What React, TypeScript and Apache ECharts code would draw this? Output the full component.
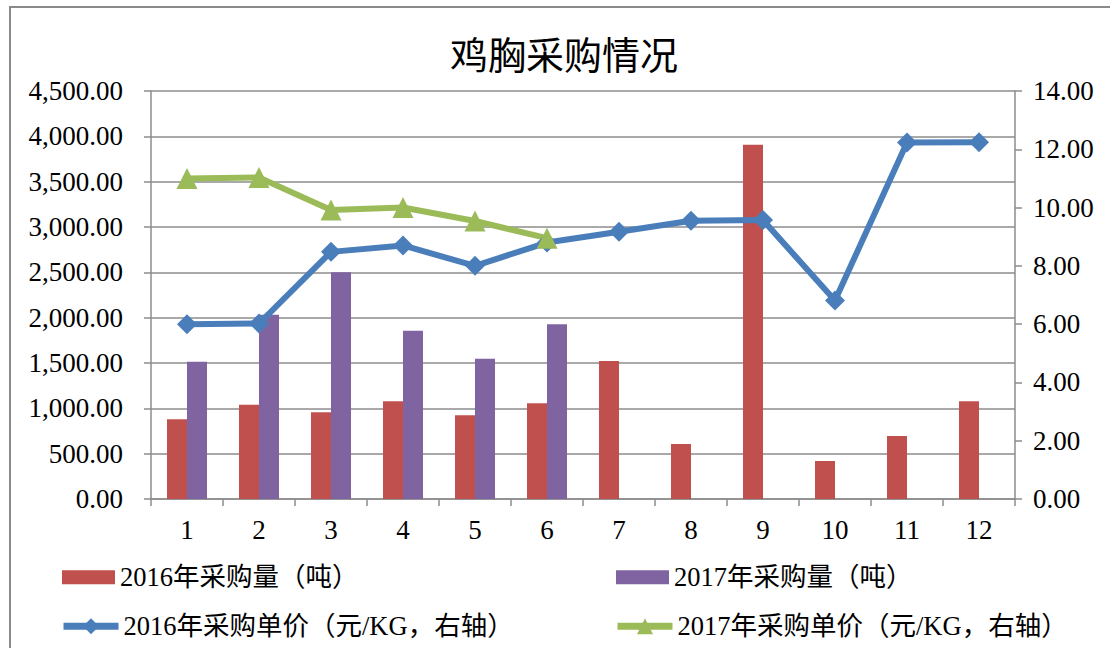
import React, { useEffect, useRef } from "react";
import * as echarts from "echarts";

const months = ["1", "2", "3", "4", "5", "6", "7", "8", "9", "10", "11", "12"];
const qty2016 = [880, 1040, 956, 1077, 923, 1055, 1522, 607, 3908, 419, 695, 1077];
const qty2017 = [1515, 2033, 2500, 1857, 1548, 1927, null, null, null, null, null, null];
const price2016 = [6.0, 6.02, 8.48, 8.7, 8.0, 8.8, 9.17, 9.55, 9.57, 6.81, 12.23, 12.24];
const price2017 = [11.0, 11.03, 9.92, 10.0, 9.54, 8.95, null, null, null, null, null, null];

const names = [
  "2016年采购量（吨）",
  "2017年采购量（吨）",
  "2016年采购单价（元/KG，右轴）",
  "2017年采购单价（元/KG，右轴）",
];

const FONT = "'Liberation Serif', 'Noto Sans CJK SC', serif";
const RED = "#C0504D";
const PURPLE = "#8064A2";
const BLUE = "#4A7EBB";
const GREEN = "#9BBB59";
const GRID = "#8c8c8c";

export default function App() {
  const ref = useRef<HTMLDivElement>(null);
  useEffect(() => {
    if (!ref.current) return;
    const chart = echarts.init(ref.current, null, { renderer: "svg" });
    const legendBase = {
      padding: 0,
      textStyle: { fontFamily: FONT, fontSize: 26.5, color: "#000" },
      itemGap: 0,
    };
    chart.setOption({
      animation: false,
      backgroundColor: "#fff",
      title: {
        text: "鸡胸采购情况",
        left: 559,
        textAlign: "center",
        top: 32,
        textStyle: { fontFamily: FONT, fontSize: 38, fontWeight: "normal", color: "#000" },
      },
      graphic: [
        {
          type: "rect",
          shape: { x: 10, y: 7, width: 1200, height: 700 },
          style: { fill: "none", stroke: "#8a8a8a", lineWidth: 2 },
          silent: true,
        },
      ],
      grid: { left: 151, right: 95, top: 91, bottom: 149, containLabel: false },
      legend: [
        { ...legendBase, left: 62, top: 564, data: [{ name: names[0], icon: "rect" }], itemWidth: 53, itemHeight: 14 },
        { ...legendBase, left: 616, top: 564, data: [{ name: names[1], icon: "rect" }], itemWidth: 53, itemHeight: 14 },
        {
          ...legendBase,
          left: 60,
          top: 613,
          data: [{ name: names[2], lineStyle: { width: 7 } }],
          itemWidth: 55,
          itemHeight: 20,
        },
        {
          ...legendBase,
          left: 614,
          top: 613,
          data: [{ name: names[3], lineStyle: { width: 7 } }],
          itemWidth: 55,
          itemHeight: 20,
        },
      ],
      xAxis: {
        type: "category",
        data: months,
        boundaryGap: true,
        axisLine: { lineStyle: { color: GRID, width: 1.5 } },
        axisTick: { show: true, length: 7, lineStyle: { color: GRID, width: 1.5 } },
        axisLabel: { fontFamily: FONT, fontSize: 27, color: "#000", margin: 17 },
      },
      yAxis: [
        {
          type: "value",
          min: 0,
          max: 4500,
          interval: 500,
          axisLine: { show: true, lineStyle: { color: GRID, width: 1.5 } },
          axisTick: { show: true, length: 7, lineStyle: { color: GRID, width: 1.5 } },
          splitLine: { show: true, lineStyle: { color: GRID, width: 1.5 } },
          axisLabel: {
            fontFamily: FONT,
            fontSize: 27,
            color: "#000",
            margin: 28,
            formatter: (v: number) =>
              v.toLocaleString("en-US", { minimumFractionDigits: 2, maximumFractionDigits: 2 }),
          },
        },
        {
          type: "value",
          min: 0,
          max: 14,
          interval: 2,
          position: "right",
          axisLine: { show: true, lineStyle: { color: GRID, width: 1.5 } },
          axisTick: { show: true, length: 7, lineStyle: { color: GRID, width: 1.5 } },
          splitLine: { show: false },
          axisLabel: {
            fontFamily: FONT,
            fontSize: 27,
            color: "#000",
            margin: 18,
            formatter: (v: number) => v.toFixed(2),
          },
        },
      ],
      series: [
        {
          name: names[0],
          type: "bar",
          data: qty2016,
          barWidth: 20,
          barGap: "0%",
          itemStyle: { color: RED },
        },
        {
          name: names[1],
          type: "bar",
          data: qty2017,
          barWidth: 20,
          barGap: "0%",
          itemStyle: { color: PURPLE },
        },
        {
          name: names[2],
          type: "line",
          yAxisIndex: 1,
          data: price2016,
          symbol: "diamond",
          symbolSize: 20,
          lineStyle: { color: BLUE, width: 6 },
          itemStyle: { color: BLUE },
        },
        {
          name: names[3],
          type: "line",
          yAxisIndex: 1,
          data: price2017,
          symbol: "triangle",
          symbolSize: 21,
          lineStyle: { color: GREEN, width: 6 },
          itemStyle: { color: GREEN },
        },
      ],
    });
    return () => chart.dispose();
  }, []);
  return (
    <div
      ref={ref}
      style={{ position: "fixed", left: 0, top: 0, width: 1110, height: 648 }}
    />
  );
}
